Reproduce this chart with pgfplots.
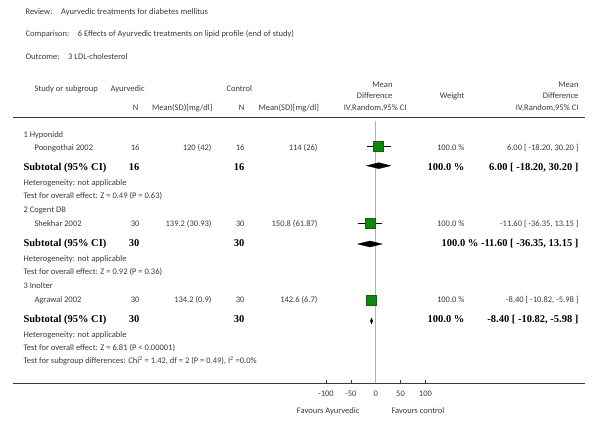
\documentclass[border=0pt]{standalone}
\usepackage{pgfplots}
\pgfplotsset{compat=1.18}
\usepackage{fontspec}
\setmainfont{Carlito}
\newfontfamily\tms{Liberation Serif}

\definecolor{txt}{HTML}{3A3A3A}
\definecolor{sqfill}{HTML}{0A8A0A}
\definecolor{sqdraw}{HTML}{1E5A1E}

% small text, bold summary text
\newcommand\sm{\fontsize{8.5}{10}\selectfont\color{txt}}
\newcommand\bd{\tms\bfseries\fontsize{10.5}{12}\selectfont\color{black}}

\begin{document}
\begin{tikzpicture}
% canvas in pixel coordinates (y downwards) for the text and rules
\begin{axis}[
    name=canvas,
    at={(0,0)}, anchor=south west,
    scale only axis, width=600pt, height=429pt,
    xmin=0, xmax=600, ymin=0, ymax=429, y dir=reverse,
    hide axis, clip=false,
    every node/.append style={inner sep=0pt},
]
\path (rel axis cs:0,0) rectangle (rel axis cs:1,1);

% titles
\node[anchor=mid west] at (axis cs:22,12) {\sm Review:\hspace{6pt} Ayurvedic treatments for diabetes mellitus};
\node[anchor=mid west] at (axis cs:22,34) {\sm Comparison:\hspace{6pt} 6 Effects of Ayurvedic treatments on lipid profile (end of study)};
\node[anchor=mid west] at (axis cs:22,57) {\sm Outcome:\hspace{6pt} 3 LDL-cholesterol};

% header
\node[anchor=mid west] at (axis cs:31,89) {\sm Study or subgroup};
\node[anchor=mid west] at (axis cs:107,89) {\sm Ayurvedic};
\node[anchor=mid west] at (axis cs:223,89) {\sm Control};
\node[anchor=mid east] at (axis cs:142,108.5) {\sm N};
\node[anchor=mid east] at (axis cs:216,108.5) {\sm Mean(SD)[mg/dl]};
\node[anchor=mid east] at (axis cs:248,108.5) {\sm N};
\node[anchor=mid east] at (axis cs:322.5,108.5) {\sm Mean(SD)[mg/dl]};
\node[anchor=mid east] at (axis cs:396,85) {\sm Mean};
\node[anchor=mid east] at (axis cs:396,96) {\sm Difference};
\node[anchor=mid east] at (axis cs:410,108.5) {\sm IV,Random,95\% CI};
\node[anchor=mid east] at (axis cs:468,96) {\sm Weight};
\node[anchor=mid east] at (axis cs:582,85) {\sm Mean};
\node[anchor=mid east] at (axis cs:582,96) {\sm Difference};
\node[anchor=mid east] at (axis cs:582,108.5) {\sm IV,Random,95\% CI};

% rules
\addplot[txt, line width=1.2pt] coordinates {(13,117.7)(585,117.7)};
\addplot[txt, line width=1.2pt] coordinates {(13,383.3)(585,383.3)};

% subgroup 1
\node[anchor=mid west] at (axis cs:20,135) {\sm 1 Hyponidd};
\node[anchor=mid west] at (axis cs:31,148) {\sm Poongothai 2002};
\node[anchor=mid east] at (axis cs:143,148) {\sm 16};
\node[anchor=mid east] at (axis cs:215,148) {\sm 120 (42)};
\node[anchor=mid east] at (axis cs:248,148) {\sm 16};
\node[anchor=mid east] at (axis cs:321,148) {\sm 114 (26)};
\node[anchor=mid east] at (axis cs:468,148) {\sm 100.0 \%};
\node[anchor=mid east] at (axis cs:582,148) {\sm 6.00 [ -18.20, 30.20 ]};
\node[anchor=mid west] at (axis cs:20,168) {\bd Subtotal (95\% CI)};
\node[anchor=mid east] at (axis cs:143,168) {\bd 16};
\node[anchor=mid east] at (axis cs:248,168) {\bd 16};
\node[anchor=mid east] at (axis cs:468,168) {\bd 100.0 \%};
\node[anchor=mid east] at (axis cs:582,168) {\bd 6.00 [ -18.20, 30.20 ]};
\node[anchor=mid west] at (axis cs:20,183) {\sm Heterogeneity: not applicable};
\node[anchor=mid west] at (axis cs:20,196) {\sm Test for overall effect: Z = 0.49 (P = 0.63)};

% subgroup 2
\node[anchor=mid west] at (axis cs:20,210) {\sm 2 Cogent DB};
\node[anchor=mid west] at (axis cs:31,224) {\sm Shekhar 2002};
\node[anchor=mid east] at (axis cs:143,224) {\sm 30};
\node[anchor=mid east] at (axis cs:215,224) {\sm 139.2 (30.93)};
\node[anchor=mid east] at (axis cs:248,224) {\sm 30};
\node[anchor=mid east] at (axis cs:321,224) {\sm 150.8 (61.87)};
\node[anchor=mid east] at (axis cs:468,224) {\sm 100.0 \%};
\node[anchor=mid east] at (axis cs:582,224) {\sm -11.60 [ -36.35, 13.15 ]};
\node[anchor=mid west] at (axis cs:20,244) {\bd Subtotal (95\% CI)};
\node[anchor=mid east] at (axis cs:143,244) {\bd 30};
\node[anchor=mid east] at (axis cs:248,244) {\bd 30};
\node[anchor=mid east] at (axis cs:582,244) {\bd 100.0 \% -11.60 [ -36.35, 13.15 ]};
\node[anchor=mid west] at (axis cs:20,259) {\sm Heterogeneity: not applicable};
\node[anchor=mid west] at (axis cs:20,272) {\sm Test for overall effect: Z = 0.92 (P = 0.36)};

% subgroup 3
\node[anchor=mid west] at (axis cs:20,286) {\sm 3 Inolter};
\node[anchor=mid west] at (axis cs:31,300) {\sm Agrawal 2002};
\node[anchor=mid east] at (axis cs:143,300) {\sm 30};
\node[anchor=mid east] at (axis cs:215,300) {\sm 134.2 (0.9)};
\node[anchor=mid east] at (axis cs:248,300) {\sm 30};
\node[anchor=mid east] at (axis cs:321,300) {\sm 142.6 (6.7)};
\node[anchor=mid east] at (axis cs:468,300) {\sm 100.0 \%};
\node[anchor=mid east] at (axis cs:582,300) {\sm -8.40 [ -10.82, -5.98 ]};
\node[anchor=mid west] at (axis cs:20,320) {\bd Subtotal (95\% CI)};
\node[anchor=mid east] at (axis cs:143,320) {\bd 30};
\node[anchor=mid east] at (axis cs:248,320) {\bd 30};
\node[anchor=mid east] at (axis cs:468,320) {\bd 100.0 \%};
\node[anchor=mid east] at (axis cs:582,320) {\bd -8.40 [ -10.82, -5.98 ]};
\node[anchor=mid west] at (axis cs:20,335) {\sm Heterogeneity: not applicable};
\node[anchor=mid west] at (axis cs:20,348) {\sm Test for overall effect: Z = 6.81 (P < 0.00001)};
\node[anchor=mid west] at (axis cs:20,361) {\sm Test for subgroup differences: Chi\textsuperscript{2} = 1.42, df = 2 (P = 0.49), I\textsuperscript{2} =0.0\%};

% favours
\node[anchor=mid east] at (axis cs:363,410.7) {\sm Favours Ayurvedic};
\node[anchor=mid west] at (axis cs:388,410.7) {\sm Favours control};
\end{axis}

% forest plot: x = mean difference, y = pixel height from the bottom
\begin{axis}[
    at={(326pt,45.7pt)}, anchor=south west,
    scale only axis, width=99.4pt, height=265.6pt,
    xmin=-100, xmax=100, ymin=45.7, ymax=311.3,
    axis y line=none, axis x line*=bottom,
    x axis line style={txt, line width=1.2pt},
    xtick={-100,-50,0,50,100},
    xticklabels={-100,-50,0,50,100},
    tick align=inside, major tick length=3pt,
    tick style={txt, line width=0.6pt},
    xticklabel style={font=\sm, yshift=-4.5pt},
    clip=false,
]
% line of no effect
\addplot[gray!60, line width=0.6pt] coordinates {(0,45.7)(0,308)};

% confidence intervals
\addplot[black, line width=0.5pt] coordinates {(-18.20,282.5)(30.20,282.5)};
\addplot[black, line width=0.5pt] coordinates {(-36.35,205.5)(13.15,205.5)};
\addplot[black, line width=0.5pt] coordinates {(-10.82,128.5)(-5.98,128.5)};

% study estimates
\addplot[only marks, mark=square*, mark size=5pt,
    mark options={fill=sqfill, draw=sqdraw, line width=0.4pt}]
    coordinates {(6.00,282.5)(-11.60,205.5)(-8.40,128.5)};

% subtotal diamonds
\addplot[fill=black, draw=black, line width=0.3pt] coordinates {(-18.20,263.3)(6.00,266.3)(30.20,263.3)(6.00,260.3)} -- cycle;
\addplot[fill=black, draw=black, line width=0.3pt] coordinates {(-36.35,185)(-11.60,188)(13.15,185)(-11.60,182)} -- cycle;
\addplot[fill=black, draw=black, line width=0.3pt] coordinates {(-10.82,108)(-8.40,111)(-5.98,108)(-8.40,105)} -- cycle;
\end{axis}
\end{tikzpicture}
\end{document}
